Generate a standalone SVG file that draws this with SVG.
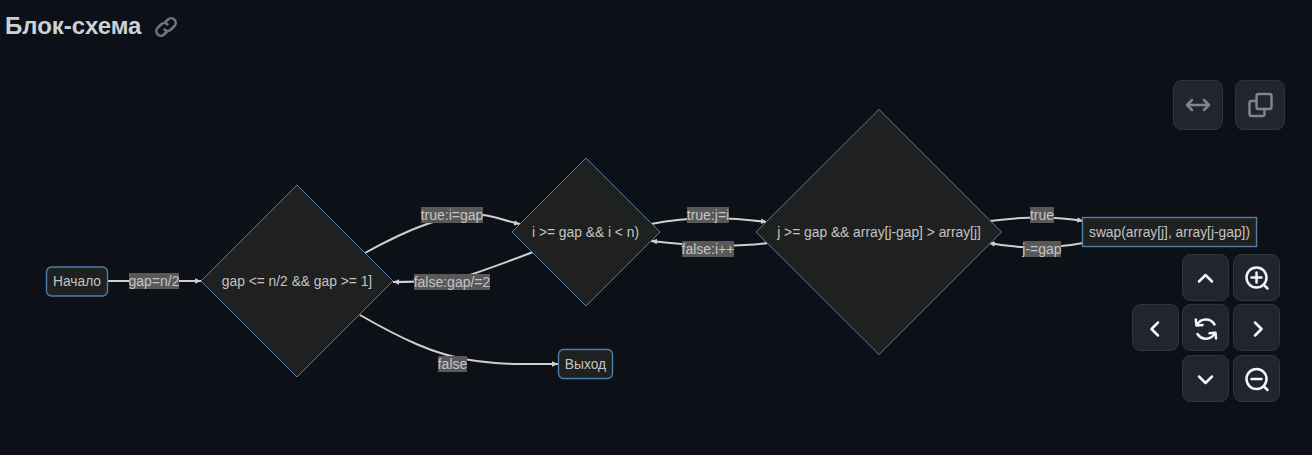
<svg xmlns="http://www.w3.org/2000/svg" width="1312" height="455" viewBox="0 0 1312 455">
<defs>
<style>
text{font-family:"Liberation Sans",Arial,sans-serif}
.n{fill:#1f2020;stroke:#4f7ea8;stroke-width:1}
.r{fill:#1f2020;stroke:#4f7ea8;stroke-width:1.400}
.t{fill:#c4c4c4;font-size:13.800px;text-anchor:middle}
.e{fill:none;stroke:#cfcfcf;stroke-width:2}
.lb{fill:#585858}
.l{fill:#c4c4c4;font-size:14px;text-anchor:middle}
.b{fill:#21262d;stroke:#30363d;stroke-width:1}
.i{fill:none;stroke:#f0f6fc;stroke-width:2.500;stroke-linecap:round;stroke-linejoin:round}
.g{fill:none;stroke:#7d8590;stroke-width:2.500;stroke-linecap:round;stroke-linejoin:round}
</style>
<marker id="a" markerUnits="userSpaceOnUse" markerWidth="7" markerHeight="7" refX="6" refY="3.500" orient="auto"><path d="M0,0.800 L6,3.500 L0,6.200 Z" fill="#cfcfcf"/></marker>
</defs>
<rect width="1312" height="455" fill="#0d1117"/>
<text x="5" y="33.500" font-weight="700" fill="#c9d1d9" style="font-size:24px">Блок-схема</text>
<g class="g" style="stroke:#6e7681">
<path d="M165 22.500l3-3a4.600 4.600 0 0 1 6.500 6.500l-3.500 3.500a4.600 4.600 0 0 1-6.500 0"/>
<path d="M167 31.500l-3 3a4.600 4.600 0 0 1-6.500-6.500l3.500-3.500a4.600 4.600 0 0 1 6.500 0"/>
</g>
<g id="connectors">
<path class="e" marker-end="url(#a)" d="M108 281H201"/>
<path class="e" marker-end="url(#a)" d="M365 253C410 228 450 212 483 215C495 216 505 221 520 224"/>
<path class="e" marker-end="url(#a)" d="M533 252C510 261 490 268 470 275C450 281 420 282 393 282"/>
<path class="e" marker-end="url(#a)" d="M360 315C400 338 435 355 470 360C500 365 530 364 558 364"/>
<path class="e" marker-end="url(#a)" d="M651 224C680 218 720 216 767 222"/>
<path class="e" marker-end="url(#a)" d="M768 243C745 246 720 246 700 245C685 245 670 243 651 241"/>
<path class="e" marker-end="url(#a)" d="M990 221C1020 217 1050 215 1083 221"/>
<path class="e" marker-end="url(#a)" d="M1083 243C1050 249 1020 249 989 243"/>
<rect class="lb" x="129" y="273" width="50" height="16"/><text class="l" x="154" y="286">gap=n/2</text>
<rect class="lb" x="421" y="207" width="62" height="16"/><text class="l" x="452" y="220">true:i=gap</text>
<rect class="lb" x="414" y="274" width="76" height="16"/><text class="l" x="452" y="287">false:gap/=2</text>
<rect class="lb" x="438" y="356" width="29" height="16"/><text class="l" x="452.500" y="369">false</text>
<rect class="lb" x="687" y="207" width="42" height="16"/><text class="l" x="708" y="220">true:j=i</text>
<rect class="lb" x="682" y="241" width="52" height="16"/><text class="l" x="708" y="254">false:i++</text>
<rect class="lb" x="1030" y="207" width="24" height="16"/><text class="l" x="1042" y="220">true</text>
<rect class="lb" x="1023" y="241" width="38" height="16"/><text class="l" x="1042" y="254">j-=gap</text>
</g>
<g id="start"><rect class="r" x="46.500" y="267" width="61" height="29" rx="5"/><text class="t" x="77" y="286">Начало</text></g>
<g id="cond1"><polygon class="n" points="297,185 393,281 297,377 201,281"/><text class="t" x="297" y="286">gap &lt;= n/2 &amp;&amp; gap &gt;= 1]</text></g>
<g id="exit"><rect class="r" x="558.500" y="349.500" width="54" height="29" rx="5"/><text class="t" x="585.500" y="369">Выход</text></g>
<g id="cond2"><polygon class="n" points="586,158 660,232 586,306 512,232"/><text class="t" x="585.500" y="237">i &gt;= gap &amp;&amp; i &lt; n)</text></g>
<g id="cond3"><polygon class="n" points="879,109.500 1001.500,232 879,354.500 756,232"/><text class="t" x="879" y="237">j &gt;= gap &amp;&amp; array[j-gap] &gt; array[j]</text></g>
<g id="swap"><rect class="r" x="1082.500" y="217.500" width="174" height="29"/><text class="t" x="1169.500" y="237">swap(array[j], array[j-gap])</text></g>
<g id="toolbar">
<rect class="b" x="1173.500" y="80.500" width="49" height="49" rx="8"/>
<path class="g" d="M1187 105H1209M1192 100L1187 105L1192 110M1204 100L1209 105L1204 110"/>
<rect class="b" x="1235.500" y="80.500" width="49" height="49" rx="8"/>
<rect class="g" x="1256.500" y="94" width="15" height="15" rx="2"/>
<path class="g" d="M1256.500 101H1251.500a2 2 0 0 0-2 2V114a2 2 0 0 0 2 2H1262.500a2 2 0 0 0 2-2V109"/>
</g>
<g id="controls">
<rect class="b" x="1182.500" y="254.500" width="46" height="46" rx="8"/>
<path class="i" d="M1199 281.500L1205.500 275L1212 281.500"/>
<rect class="b" x="1233.500" y="254.500" width="46" height="46" rx="8"/>
<circle class="i" cx="1256.500" cy="277.500" r="10"/><path class="i" d="M1264 285L1267.500 288.500M1251.500 277.500H1261.500M1256.500 272.500V282.500"/>
<rect class="b" x="1132.500" y="304.500" width="46" height="46" rx="8"/>
<path class="i" d="M1158 322.500L1151.500 329L1158 335.500"/>
<rect class="b" x="1182.500" y="304.500" width="46" height="46" rx="8"/>
<path class="i" d="M1214.500 324.500A10 10 0 0 0 1197 325M1197.500 334A10 10 0 0 0 1215 333"/>
<path class="i" d="M1195.800 319.500L1196.500 325.500L1202.500 325M1216 338.500L1215.500 332.800L1209.500 333.200"/>
<rect class="b" x="1233.500" y="304.500" width="46" height="46" rx="8"/>
<path class="i" d="M1255 322.500L1261.500 329L1255 335.500"/>
<rect class="b" x="1182.500" y="355.500" width="46" height="46" rx="8"/>
<path class="i" d="M1199 376.500L1205.500 383L1212 376.500"/>
<rect class="b" x="1233.500" y="355.500" width="46" height="46" rx="8"/>
<circle class="i" cx="1256.500" cy="379" r="10"/><path class="i" d="M1264 386.500L1267.500 390M1251.500 379H1261.500"/>
</g>
</svg>
